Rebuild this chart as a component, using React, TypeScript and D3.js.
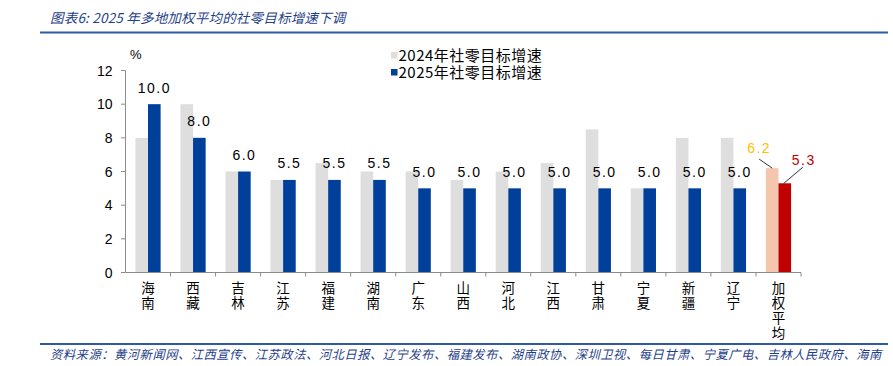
import React from "react";
import * as d3 from "d3";

const categories = ["海南", "西藏", "吉林", "江苏", "福建", "湖南", "广东", "山西", "河北", "江西", "甘肃", "宁夏", "新疆", "辽宁", "加权平均"];
const values2024 = [8, 10, 6, 5.5, 6.5, 6, 6, 5.5, 6, 6.5, 8.5, 5, 8, 8, 6.2];
const values2025 = [10, 8, 6, 5.5, 5.5, 5.5, 5, 5, 5, 5, 5, 5, 5, 5, 5.3];
const yTicks = [0, 2, 4, 6, 8, 10, 12];
const seriesNames = ["2024年社零目标增速", "2025年社零目标增速"];
const title = "图表6:  2025 年多地加权平均的社零目标增速下调";
const source = "资料来源：黄河新闻网、江西宣传、江苏政法、河北日报、辽宁发布、福建发布、湖南政协、深圳卫视、每日甘肃、宁夏广电、吉林人民政府、海南";

const W = 893;
const H = 366;
const GRAY = "#DEDEDE";
const BLUE = "#00409A";
const PINK = "#F5C6AE";
const RED = "#C00000";
const ORANGE = "#FFC000";
const AXIS = "#8C8C8C";
const NAVY = "#1F3F8A";

export default function App() {
  const x = d3.scaleBand<string>().domain(categories).range([125.5, 801]).paddingInner(0).paddingOuter(0);
  const y = d3.scaleLinear().domain([0, 12]).range([272.5, 70.5]);
  const bw = 12.6;
  const last = categories.length - 1;
  const numFont = "'Liberation Sans', Arial, sans-serif";
  const cjkFont = "'Noto Sans CJK SC', sans-serif";

  return (
    <svg width={W} height={H} style={{ position: "absolute", left: 0, top: 0, background: "#fff" }}>
      {/* title */}
      <text x={50} y={23} fontSize={13.5} fontStyle="italic" fill={NAVY} fontFamily={cjkFont} letterSpacing={0.2}>
        {title}
      </text>
      <line x1={40} x2={888} y1={32.5} y2={32.5} stroke="#2E5AA8" strokeWidth={2} />

      {/* % unit */}
      <text x={130} y={59} fontSize={13} fontFamily={numFont} fill="#000">%</text>

      {/* y axis */}
      <line x1={125.5} x2={125.5} y1={y(12)} y2={y(0)} stroke={AXIS} strokeWidth={1} />
      {yTicks.map((t) => (
        <g key={t}>
          <line x1={121} x2={125.5} y1={y(t)} y2={y(t)} stroke={AXIS} />
          <text x={112.5} y={y(t)} dy="0.36em" textAnchor="end" fontSize={14} fontFamily={numFont} fill="#000">
            {t}
          </text>
        </g>
      ))}

      {/* bars */}
      {categories.map((c, i) => {
        const cx = (x(c) as number) + x.bandwidth() / 2;
        const isAvg = i === last;
        return (
          <g key={c}>
            <rect x={cx - bw} y={y(values2024[i])} width={bw} height={y(0) - y(values2024[i])} fill={isAvg ? PINK : GRAY} />
            <rect x={cx} y={y(values2025[i])} width={bw} height={y(0) - y(values2025[i])} fill={isAvg ? RED : BLUE} />
          </g>
        );
      })}

      {/* x axis */}
      <line x1={125.5} x2={801} y1={y(0)} y2={y(0)} stroke={AXIS} />
      {categories.map((c) => (
        <line key={"t" + c} x1={(x(c) as number) + x.bandwidth()} x2={(x(c) as number) + x.bandwidth()} y1={y(0)} y2={y(0) + 4} stroke={AXIS} />
      ))}

      {/* category labels (vertical) */}
      {categories.map((c) => {
        const cx = (x(c) as number) + x.bandwidth() / 2;
        return (
          <g key={"l" + c}>
            {Array.from(c).map((ch, k) => (
              <text key={k} x={cx} y={293 + k * 15} fontSize={13.5} fontFamily={cjkFont} fill="#000" textAnchor="middle">
                {ch}
              </text>
            ))}
          </g>
        );
      })}

      {/* data labels */}
      {categories.map((c, i) => {
        if (i === last) return null;
        const cx = (x(c) as number) + x.bandwidth() / 2 + bw / 2;
        return (
          <text key={"d" + c} x={cx} y={y(values2025[i]) - 11.5} textAnchor="middle" fontSize={14} letterSpacing={1.5} fontFamily={numFont} fill="#000">
            {values2025[i].toFixed(1)}
          </text>
        );
      })}

      {/* weighted average labels with leaders */}
      {(() => {
        const c = categories[last];
        const cx = (x(c) as number) + x.bandwidth() / 2;
        const pinkCx = cx - bw / 2;
        const redCx = cx + bw / 2;
        const yp = y(values2024[last]);
        const yr = y(values2025[last]);
        return (
          <g>
            <line x1={pinkCx - 13} y1={yp - 9} x2={pinkCx} y2={yp} stroke="#000" strokeWidth={0.8} />
            <text x={pinkCx - 13} y={yp - 15} textAnchor="middle" fontSize={14} letterSpacing={1.5} fontFamily={numFont} fill={ORANGE}>
              {values2024[last].toFixed(1)}
            </text>
            <line x1={redCx - 1} y1={yr} x2={redCx + 18} y2={yr - 16} stroke="#000" strokeWidth={0.8} />
            <text x={redCx + 19} y={yr - 18} textAnchor="middle" fontSize={14} letterSpacing={1.5} fontFamily={numFont} fill={RED}>
              {values2025[last].toFixed(1)}
            </text>
          </g>
        );
      })()}

      {/* legend */}
      {seriesNames.map((s, i) => (
        <g key={s}>
          <rect x={391} y={52 + i * 17} width={6.5} height={6.5} fill={i === 0 ? GRAY : BLUE} />
          <text x={398.5} y={55.5 + i * 17} dy="0.36em" fontSize={15} fontFamily={cjkFont} letterSpacing={0.5} fill="#000">
            {s}
          </text>
        </g>
      ))}

      {/* footer */}
      <line x1={40} x2={888} y1={344} y2={344} stroke="#2E5AA8" strokeWidth={2} />
      <text x={50} y={359} fontSize={12.3} fontStyle="italic" fill={NAVY} fontFamily={cjkFont} letterSpacing={0.5}>
        {source}
      </text>
    </svg>
  );
}
